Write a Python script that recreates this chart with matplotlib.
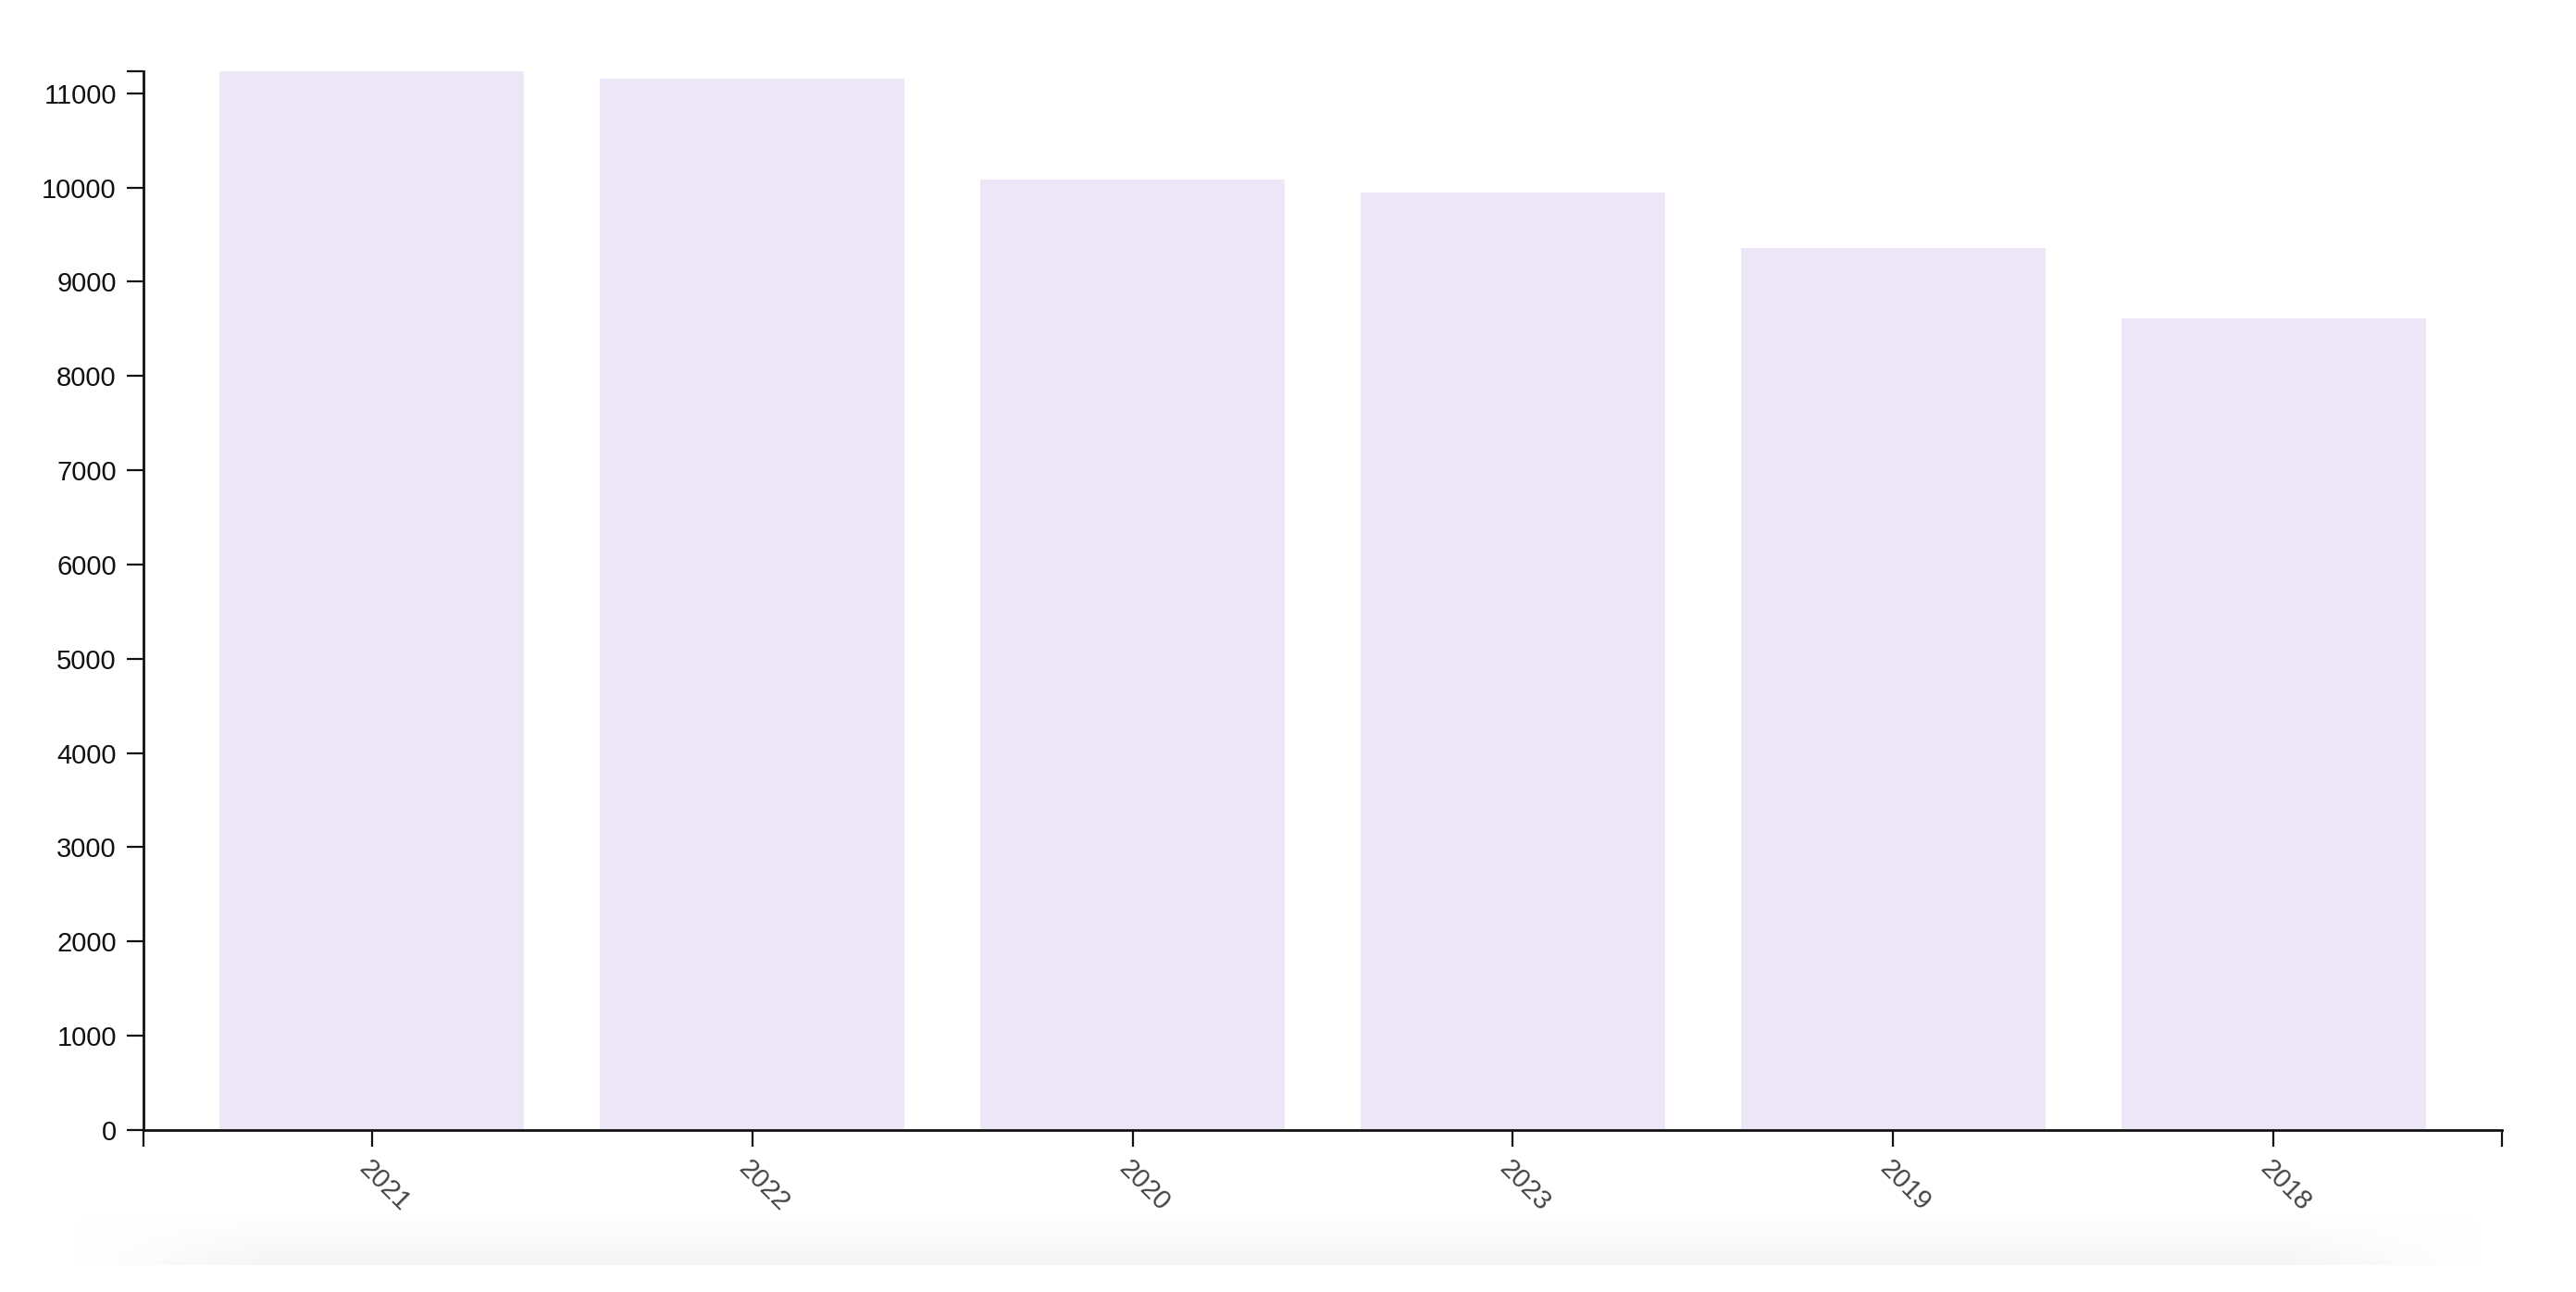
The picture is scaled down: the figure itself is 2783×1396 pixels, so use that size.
import matplotlib.pyplot as plt
import numpy as np

# values per year, sorted descending as in the chart
years = ["2021", "2022", "2020", "2023", "2019", "2018"]
counts = [11234, 11160, 10085, 9950, 9360, 8615]
yticks = [0, 1000, 2000, 3000, 4000, 5000, 6000, 7000, 8000, 9000, 10000, 11000]

bar_color = "#ede6f7"
font = ["Liberation Sans Narrow", "Liberation Sans", "DejaVu Sans"]
plt.rcParams["font.family"] = font

W, H = 2783, 1396
fig = plt.figure(figsize=(W / 100, H / 100), dpi=100)

# faint card shadow along the bottom: white at top, light grey at the bottom edge
sh = fig.add_axes([75 / W, (H - 1367) / H, (2680 - 75) / W, 55 / H])
gy = np.linspace(0, 1, 60).reshape(-1, 1)
gx = np.minimum(1, np.minimum(np.linspace(0, 1, 400), np.linspace(1, 0, 400)) * 12).reshape(1, -1)
shade = gy * gx
cmap = plt.matplotlib.colors.LinearSegmentedColormap.from_list("s", ["#ffffff", "#f5f5f5"])
sh.imshow(shade, aspect="auto", cmap=cmap, vmin=0, vmax=1, extent=[0, 1, 0, 1])
sh.axis("off")

ax = fig.add_axes([155 / W, (H - 1221) / H, (2703 - 155) / W, (1221 - 77) / H])
x = np.arange(len(years))
ax.bar(x, counts, width=0.8, color=bar_color, zorder=1)

ax.set_xlim(-0.6, len(years) - 1 + 0.6)
ax.set_ylim(0, max(counts))
ax.set_xticks(x)
ax.set_xticklabels(years, rotation=-45, ha="left", va="top", rotation_mode="anchor",
                   fontsize=21, color="#444444")
ax.set_yticks(yticks)
ax.set_yticklabels([str(v) for v in yticks], fontsize=21, color="#111111")

# outer ticks at the domain ends (d3 style)
ax.set_xticks([-0.6, len(years) - 1 + 0.6], minor=True)
ax.set_yticks([max(counts)], minor=True)

for s in ["top", "right"]:
    ax.spines[s].set_visible(False)
for s in ["left", "bottom"]:
    ax.spines[s].set_linewidth(2)
    ax.spines[s].set_color("#111111")
    ax.spines[s].set_zorder(3)

ax.tick_params(axis="both", which="both", length=13, width=1.6, color="#111111")
ax.tick_params(axis="x", pad=7)
ax.tick_params(axis="y", pad=8)

fig.savefig("out.png", dpi=100, facecolor="white")
